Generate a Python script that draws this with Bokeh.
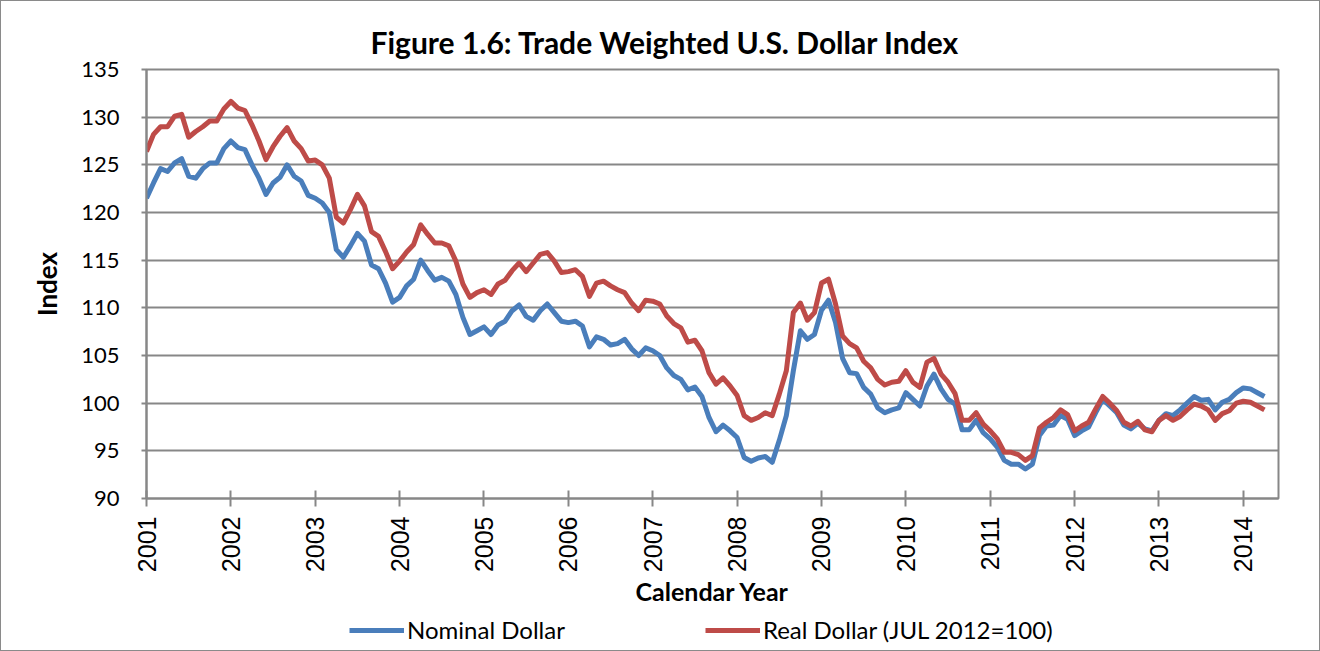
import numpy as np
from bokeh.plotting import figure
from bokeh.layouts import column
from bokeh.models import Range1d, FixedTicker, Legend
from bokeh.embed import file_html
from bokeh.resources import INLINE

start_year = 2001
year_ticks = list(range(2001, 2015))
year_labels = [str(y) for y in year_ticks]
y_ticks = list(range(90, 140, 5))
series_names = ["Nominal Dollar", "Real Dollar (JUL 2012=100)"]

nominal = [
    121.5, 123.1, 124.6, 124.3, 125.2, 125.65, 123.8, 123.6, 124.6, 125.2, 125.2, 126.7,
    127.5, 126.8, 126.6, 125.0, 123.6, 121.9, 123.1, 123.7, 125.0, 123.8, 123.3, 121.8,
    121.5, 121.0, 120.0, 116.1, 115.3, 116.5, 117.8, 117.0, 114.5, 114.1, 112.6, 110.6,
    111.1, 112.3, 113.0, 115.0, 113.9, 112.9, 113.2, 112.8, 111.4, 109.0, 107.2, 107.6,
    108.0, 107.2, 108.2, 108.6, 109.7, 110.3, 109.1, 108.7, 109.7, 110.4, 109.5, 108.6,
    108.45, 108.6, 108.1, 105.9, 106.95, 106.7, 106.1, 106.25, 106.7, 105.7, 105.0, 105.8,
    105.5, 105.0, 103.7, 102.9, 102.5, 101.4, 101.7, 100.7, 98.5, 97.0, 97.7, 97.1,
    96.4, 94.3, 93.9, 94.25, 94.4, 93.8, 96.1, 98.7, 103.4, 107.6, 106.7, 107.2,
    109.75, 110.8, 108.45, 104.7, 103.2, 103.1, 101.65, 100.95, 99.5, 99.0, 99.3, 99.5,
    101.1, 100.4, 99.7, 101.8, 103.05, 101.5, 100.4, 99.9, 97.2, 97.2, 98.2, 96.9,
    96.25, 95.4, 94.0, 93.6, 93.6, 93.1, 93.6, 96.6, 97.6, 97.7, 98.7, 98.3,
    96.6, 97.1, 97.5, 99.0, 100.4, 99.7, 99.0, 97.7, 97.3, 97.9, 97.3, 97.1,
    98.2, 98.9, 98.7, 99.3, 100.0, 100.7, 100.3, 100.4, 99.3, 100.1, 100.4, 101.1,
    101.6, 101.5, 101.1, 100.7,
]

real = [
    126.4, 128.2, 129.0, 129.0, 130.1, 130.3, 127.9, 128.5, 129.0, 129.6, 129.6, 130.85,
    131.65, 130.95, 130.7, 129.2, 127.5, 125.55, 126.9, 128.0, 128.9, 127.5, 126.7, 125.4,
    125.5, 125.0, 123.6, 119.5, 118.9, 120.3, 121.9, 120.7, 118.0, 117.5, 115.9, 114.1,
    114.9, 115.85, 116.65, 118.7, 117.7, 116.8, 116.8, 116.5, 114.9, 112.5, 111.1, 111.6,
    111.9, 111.4, 112.5, 112.9, 113.9, 114.7, 113.8, 114.7, 115.6, 115.8, 114.9, 113.7,
    113.8, 114.0, 113.3, 111.2, 112.6, 112.8, 112.3, 111.9, 111.6, 110.5, 109.7, 110.8,
    110.7, 110.4, 109.15, 108.35, 107.9, 106.4, 106.6, 105.5, 103.2, 102.0, 102.65, 101.8,
    100.8, 98.7, 98.2, 98.5, 99.0, 98.7, 100.95, 103.4, 109.5, 110.5, 108.7, 109.5,
    112.6, 113.0, 110.4, 107.05, 106.25, 105.8, 104.4, 103.7, 102.5, 101.9, 102.2, 102.3,
    103.4, 102.2, 101.65, 104.3, 104.7, 103.05, 102.2, 101.0, 98.2, 98.2, 99.0, 97.8,
    97.1, 96.25, 94.85, 94.85, 94.6, 94.0, 94.5, 97.4, 98.0, 98.5, 99.3, 98.8,
    97.1, 97.6, 98.0, 99.4, 100.7, 100.0, 99.2, 98.0, 97.6, 98.1, 97.2, 97.0,
    98.2, 98.7, 98.2, 98.6, 99.3, 99.9, 99.7, 99.3, 98.2, 98.9, 99.2, 100.0,
    100.2, 100.1, 99.7, 99.3,
]

x = start_year + np.arange(len(nominal)) / 12.0

GRID = "#878787"
BLUE = "#4A7EBB"
RED = "#BE4B48"

p = figure(width=1318, height=608, output_backend="svg", toolbar_location=None,
           x_range=Range1d(2001, 2014 + 5 / 12), y_range=Range1d(90, 135),
           min_border_left=145, min_border_right=41, min_border_top=68,
           min_border_bottom=10)

p.title.text = "Figure 1.6: Trade Weighted U.S.  Dollar Index"
p.title.text_font = "Lato"
p.title.text_font_style = "bold"
p.title.text_font_size = "30px"
p.title.align = "left"
p.title.offset = 224
p.title.standoff = 20
p.title.text_color = "black"

p.outline_line_color = GRID
p.outline_line_width = 2

p.line(x, nominal, line_color=BLUE, line_width=5, line_join="round")
p.line(x, real, line_color=RED, line_width=5, line_join="round")

# axes
p.xaxis.ticker = FixedTicker(ticks=year_ticks)
p.xaxis.major_label_overrides = {t: l for t, l in zip(year_ticks, year_labels)}
p.xaxis.major_label_orientation = np.pi / 2
p.xaxis.major_label_text_font = "Liberation Sans"
p.xaxis.major_label_text_font_size = "25px"
p.xaxis.major_label_text_color = "black"
p.xaxis.major_label_standoff = 10
p.xaxis.major_tick_in = 8
p.xaxis.major_tick_out = 8
p.xaxis.minor_tick_line_color = None
p.xaxis.axis_line_color = GRID
p.xaxis.axis_line_width = 2
p.xaxis.major_tick_line_color = GRID
p.xaxis.major_tick_line_width = 2
p.xaxis.axis_label = "Calendar Year"
p.xaxis.axis_label_text_font = "Lato"
p.xaxis.axis_label_text_font_style = "bold"
p.xaxis.axis_label_text_font_size = "25px"
p.xaxis.axis_label_text_color = "black"
p.xaxis.axis_label_standoff = 1

p.yaxis.ticker = FixedTicker(ticks=y_ticks)
p.yaxis.major_label_text_font = "Lato"
p.yaxis.major_label_text_font_size = "22px"
p.yaxis.major_label_text_color = "black"
p.yaxis.major_label_standoff = 22
p.yaxis.major_tick_in = 0
p.yaxis.major_tick_out = 5
p.yaxis.minor_tick_line_color = None
p.yaxis.axis_line_color = GRID
p.yaxis.axis_line_width = 2
p.yaxis.major_tick_line_color = GRID
p.yaxis.major_tick_line_width = 2
p.yaxis.axis_label = "Index"
p.yaxis.axis_label_text_font = "Lato"
p.yaxis.axis_label_text_font_style = "bold"
p.yaxis.axis_label_text_font_size = "26px"
p.yaxis.axis_label_text_color = "black"
p.yaxis.axis_label_standoff = 15

p.xgrid.grid_line_color = None
p.ygrid.grid_line_color = GRID
p.ygrid.grid_line_width = 2

# legend strip below the chart (its lines lie outside its visible range)
pl = figure(width=1318, height=41, output_backend="svg", toolbar_location=None,
            x_range=Range1d(0, 1), y_range=Range1d(0, 1),
            x_axis_type=None, y_axis_type=None,
            min_border_left=0, min_border_right=0, min_border_top=0,
            min_border_bottom=0)
pl.outline_line_color = None
pl.xgrid.grid_line_color = None
pl.ygrid.grid_line_color = None
lr1 = pl.line([5, 6], [5, 6], line_color=BLUE, line_width=5)
lr2 = pl.line([5, 6], [5, 6], line_color=RED, line_width=5)
legend = Legend(items=[(series_names[0], [lr1]), (series_names[1], [lr2])],
                orientation="horizontal", location=(203, 6),
                glyph_width=55, glyph_height=24, label_height=24, label_standoff=3,
                spacing=140, padding=0, margin=0, border_line_color=None,
                background_fill_alpha=0,
                label_text_font="Lato", label_text_font_size="24px",
                label_text_color="black")
pl.add_layout(legend, "center")

layout = column(p, pl, spacing=0)
layout.styles = {"border": "1px solid #8a8a8a"}

open("out.html", "w").write(file_html(layout, INLINE))
